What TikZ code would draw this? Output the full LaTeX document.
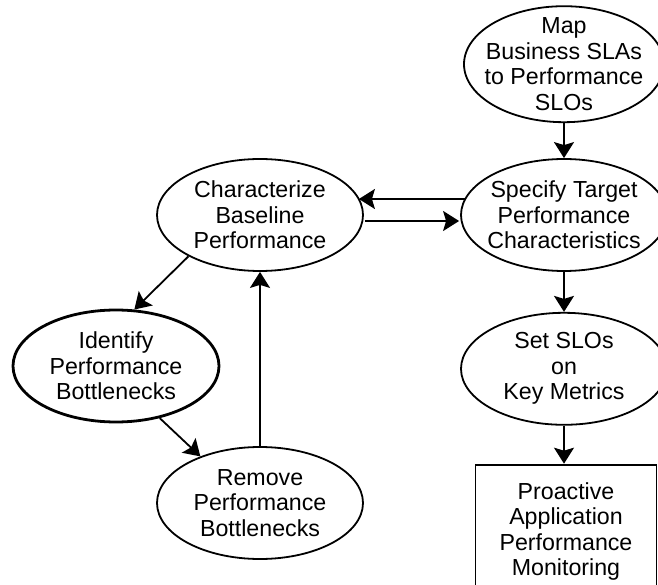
\documentclass[tikz,border=0pt]{standalone}
\usepackage{fontspec}
\setmainfont{Liberation Sans}
\usetikzlibrary{arrows.meta,positioning,shapes.geometric}

\begin{document}
\begin{tikzpicture}[x=1pt,y=1pt,font=\fontsize{23.2}{25.5}\selectfont,node distance=38pt,line width=1.8pt]
  % Node style
  \tikzstyle{oval}=[draw,ellipse,inner sep=-20pt,minimum width=206pt,minimum height=112pt,align=center]
  \tikzstyle{boxed}=[draw,rectangle,inner sep=0pt,minimum width=181pt,minimum height=134pt,align=center]
  \tikzstyle{arr}=[-{Stealth[length=16pt,width=20pt,inset=3pt]}]

  \useasboundingbox (0,0) rectangle (658,584);
  \clip (0,0) rectangle (658,584);

  % Nodes
  \node[oval] (spec) at (564,369) {Specify Target\\Performance\\Characteristics};
  \node[oval,minimum width=200pt,minimum height=116pt,above=35pt of spec] (map) {Map\\Business SLAs\\to Performance\\SLOs};
  \node[oval,below=40pt of spec] (set) {Set SLOs\\on\\Key Metrics};
  \node[boxed,below=38pt of set,xshift=2pt] (mon) {Proactive\\Application\\Performance\\Monitoring};
  \node[oval] (char) at (260,369) {Characterize\\Baseline\\Performance};
  \node[oval,line width=2.8pt] (ident) at (116,218) {Identify\\Performance\\Bottlenecks};
  \node[oval] (remove) at (260,81) {Remove\\Performance\\Bottlenecks};

  % Connections
  \draw[arr] (map.south) -- (spec.north);
  \draw[arr] (spec.south) -- (set.north);
  \draw[arr] (set.south) -- (set.south |- mon.north);
  \draw[arr] ([shift={(5,16)}]spec.west) -- ([shift={(-5,16)}]char.east);
  \draw[arr] ([shift={(1,-6)}]char.east) -- ([shift={(-1,-6)}]spec.west);
  \draw[arr] (char.210) -- (ident.72);
  \draw[arr] (ident.-50) -- (remove.142);
  \draw[arr] (remove.north) -- (char.south);
\end{tikzpicture}
\end{document}
